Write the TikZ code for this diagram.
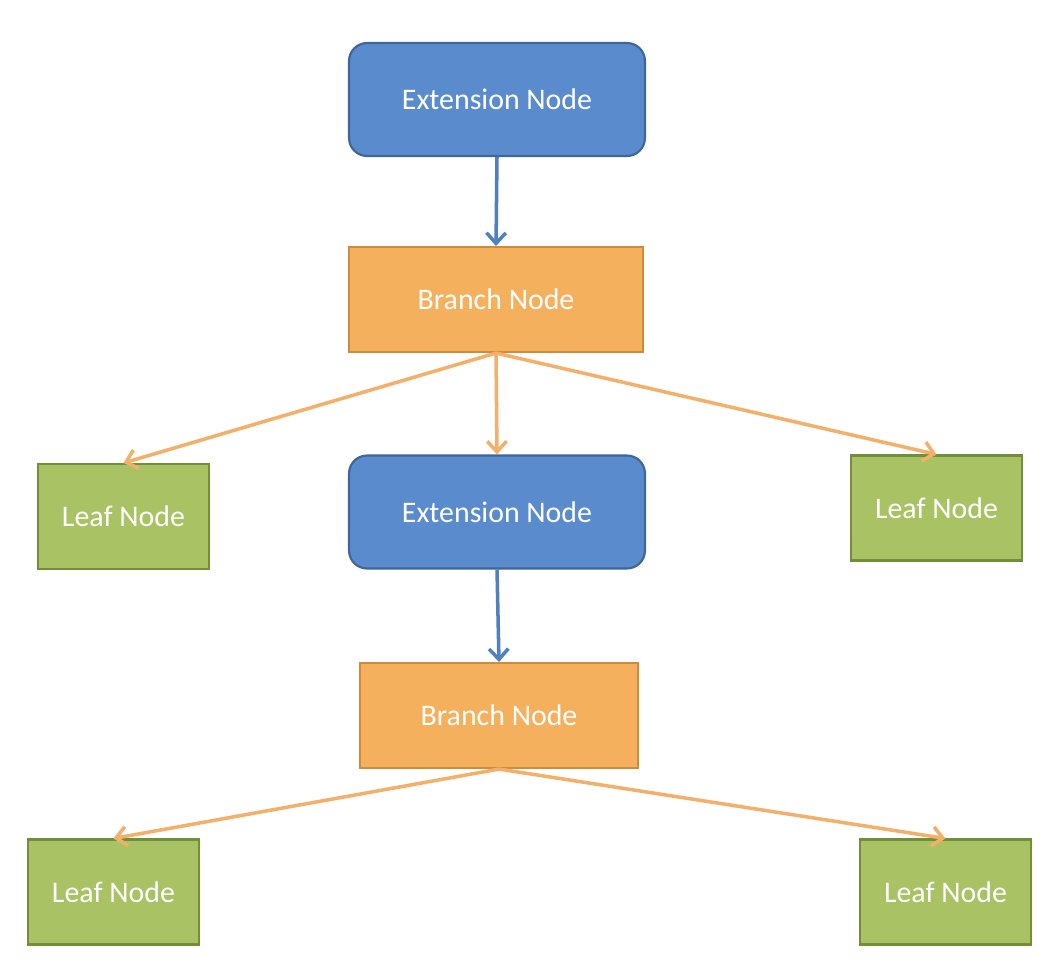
\documentclass[tikz,border=0pt]{standalone}
\usepackage{fontspec}
\setmainfont{Carlito}
\usetikzlibrary{arrows.meta}
\definecolor{extfill}{HTML}{5A8BCD}
\definecolor{extline}{HTML}{3D6699}
\definecolor{brfill}{HTML}{F4B05C}
\definecolor{brline}{HTML}{D08B38}
\definecolor{lffill}{HTML}{A9C263}
\definecolor{lfline}{HTML}{728E3A}
\definecolor{blarrow}{HTML}{4F80C2}
\definecolor{orarrow}{HTML}{F3B06A}
\tikzset{
	ext/.style={draw=extline, line width=1.2pt, fill=extfill, rectangle, rounded corners=0.36cm, text=white, minimum width=5.92cm, minimum height=2.26cm, font=\fontsize{17}{20}\selectfont},
	branch/.style={draw=brline, line width=1.2pt, fill=brfill, rectangle, text=white, minimum height=2.1cm, font=\fontsize{17}{20}\selectfont},
	leaf/.style={draw=lfline, line width=1.2pt, fill=lffill, rectangle, text=white, minimum width=3.42cm, minimum height=2.1cm, font=\fontsize{17}{20}\selectfont},
	blue arrow/.style={->, >={Straight Barb[length=6pt, width=11pt]}, draw=blarrow, line width=2pt},
	orange arrow/.style={->, >={Straight Barb[length=6pt, width=11pt]}, draw=orarrow, line width=2pt}
}
\begin{document}
\begin{tikzpicture}[x=0.02cm, y=-0.02cm]
				\useasboundingbox[fill=white] (0, 0) rectangle (1064, 964);
				\node[ext] (E1)at(497, 99.5) {Extension Node};
				\node[branch, minimum width=5.88cm] (B1)at(496, 299.5) {Branch Node};
				\node[leaf] (LA)at(123.5, 516.5) {Leaf Node};
				\node[ext] (E2)at(497, 512) {Extension Node};
				\node[leaf] (LB)at(936.5, 508) {Leaf Node};
				\node[branch, minimum width=5.56cm] (B2)at(499, 715.5) {Branch Node};
				\node[leaf] (LC)at(113.5, 892) {Leaf Node};
				\node[leaf] (LD)at(945.5, 892) {Leaf Node};
				\draw[blue arrow] (E1.south) -- (B1.north);
				\draw[orange arrow] (B1.south) -- (LA.north);
				\draw[orange arrow] (B1.south) -- (E2.north);
				\draw[orange arrow] (B1.south) -- (LB.north);
				\draw[blue arrow] (E2.south) -- (B2.north);
				\draw[orange arrow] (B2.south) -- (LC.north);
				\draw[orange arrow] (B2.south) -- (LD.north);
			\end{tikzpicture}
\end{document}
